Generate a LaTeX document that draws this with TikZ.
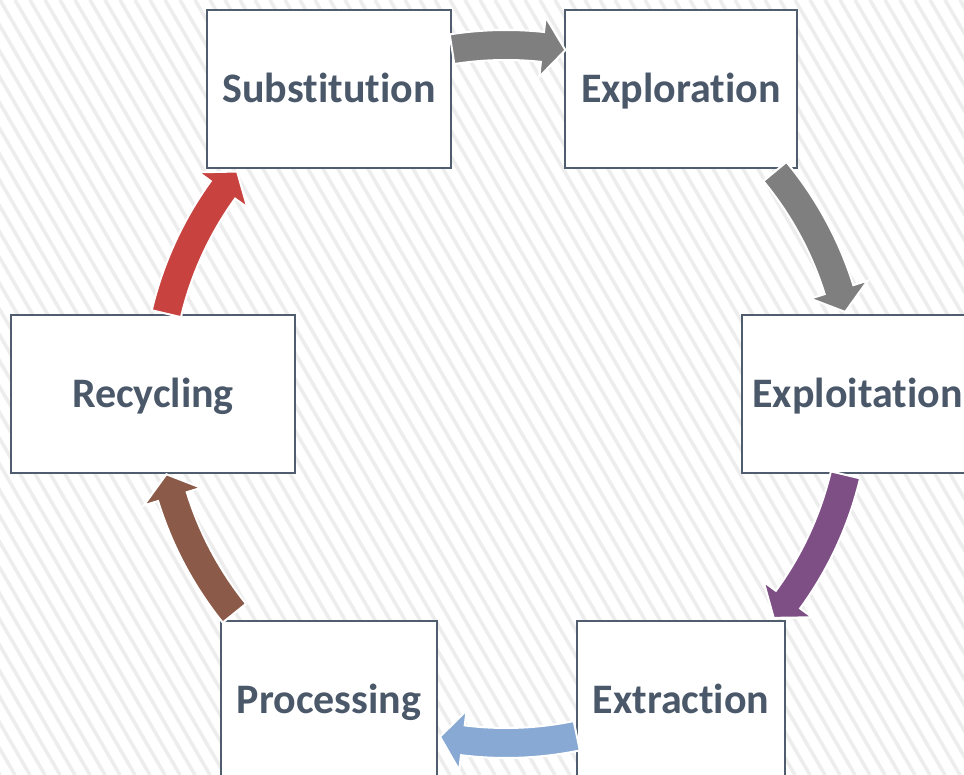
\documentclass[tikz,border=0pt]{standalone}
\usepackage{fontspec}
\setmainfont{Carlito}[RawFeature={-liga}]
\definecolor{txt}{HTML}{4A5869}
\definecolor{bord}{HTML}{4F5D6E}
\definecolor{agray}{HTML}{7F7F7F}
\definecolor{apurple}{HTML}{7E4F85}
\definecolor{ablue}{HTML}{88A9D3}
\definecolor{abrown}{HTML}{8C5A49}
\definecolor{ared}{HTML}{C8423F}
\definecolor{stripecol}{HTML}{EDEDED}
\newcommand{\cyclearrow}[3]{%
  \pgfmathsetmacro{\arrbase}{#3+3.8}%
  \path[fill=#1, draw=white, line width=2pt, line join=miter]
   ([shift={(#2:364pt)}]c) arc[start angle=#2, end angle=\arrbase, radius=364pt]
   -- ([shift={(\arrbase:379pt)}]c) -- ([shift={(#3:349pt)}]c) -- ([shift={(\arrbase:319pt)}]c)
   -- ([shift={(\arrbase:334pt)}]c) arc[start angle=\arrbase, end angle=#2, radius=334pt] -- cycle;
}
\tikzset{box/.style={draw=bord, line width=2.5pt, fill=white, text=txt,
  font=\bfseries\fontsize{42pt}{50pt}\selectfont, text height=27pt, text depth=0pt,
  inner sep=0pt, minimum height=158pt}}
\begin{document}
\begin{tikzpicture}[x=1pt,y=1pt]
\useasboundingbox (0,0) rectangle (964,775);
\fill[white] (0,0) rectangle (964,775);
\begin{scope}
\clip (0,0) rectangle (964,775);
\foreach \k in {-40,...,70} \draw[stripecol, line width=3.5pt] (\k*15,775) -- ++(450,-775);
\end{scope}
\coordinate (c) at (506,381);
\node[box, minimum width=244pt] (sub) at (329,686) {Substitution};
\node[box, minimum width=232pt] (exo) at (681,686) {Exploration};
\node[box, minimum width=231pt] (expl) at (857.5,381) {Exploitation};
\node[box, minimum width=208pt] (extr) at (681,75) {Extraction};
\node[box, minimum width=216pt] (proc) at (329,75) {Processing};
\node[box, minimum width=284pt] (rec) at (153,381) {Recycling};
\cyclearrow{agray}{98.9}{80.2}
\cyclearrow{agray}{39.6}{13.6}
\cyclearrow{apurple}{-13.4}{-39.9}
\cyclearrow{ablue}{-78.3}{-100.9}
\cyclearrow{abrown}{218.9}{193.3}
\cyclearrow{ared}{166.7}{140.4}
\end{tikzpicture}
\end{document}
